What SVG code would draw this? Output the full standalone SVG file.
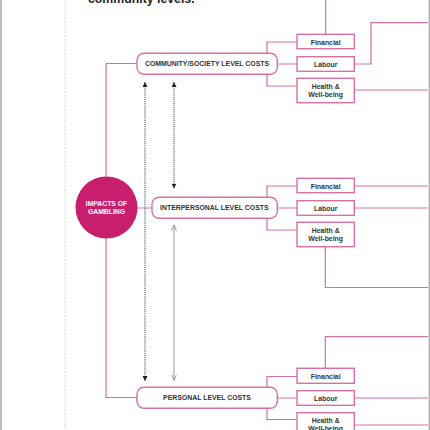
<svg xmlns="http://www.w3.org/2000/svg" width="430" height="430" viewBox="0 0 430 430">
<defs>
<style>
.lk{fill:none;stroke:#d870a3;stroke-width:1.2}
.bx{fill:#fff;stroke:#d870a3;stroke-width:1.4}
.t{font-family:"Liberation Sans",Arial,sans-serif;font-weight:bold;fill:#333;text-anchor:middle}
.lv{font-size:6.9px}
.sm{font-size:6.9px}
.dot{fill:none;stroke:#333;stroke-width:0.9;stroke-dasharray:1.2 0.9}
.sol{fill:none;stroke:#888;stroke-width:0.8}
</style>
<marker id="fa" viewBox="0 0 6 6" refX="6" refY="3" markerWidth="5" markerHeight="5" orient="auto-start-reverse" markerUnits="userSpaceOnUse">
<path d="M0,0 L6,3 L0,6 Z" fill="#222"/>
</marker>
<marker id="oa" viewBox="0 0 6 6" refX="6" refY="3" markerWidth="6" markerHeight="6" orient="auto-start-reverse" markerUnits="userSpaceOnUse">
<path d="M0,0.5 L6,3 L0,5.5" fill="none" stroke="#888" stroke-width="0.8"/>
</marker>
</defs>
<rect width="430" height="430" fill="#fff"/>
<g id="frame">
<line x1="1" y1="0" x2="1" y2="430" stroke="#aaa" stroke-width="1.5"/>
<line x1="429.3" y1="0" x2="429.3" y2="430" stroke="#aaa" stroke-width="1.3"/>
<line x1="65" y1="0" x2="65" y2="430" stroke="#ccc" stroke-width="0.8" stroke-dasharray="2 1.5"/>
</g>
<text id="title" x="88" y="3" font-family="Liberation Sans,Arial,sans-serif" font-weight="bold" font-size="12.3" fill="#222">community levels.</text>
<g id="connectors">
<path class="lk" d="M106,63.5 H137 M106,63.5 V397.5 H137 M137,208 H152"/>
<path class="lk" d="M297,42 H267 V86 H297 M277,64 H297"/>
<path class="lk" d="M297,186 H267 V230 H297 M277,208 H297"/>
<path class="lk" d="M297,376.5 H267 V419.5 H297 M277,398 H297"/>
<path class="lk" d="M325.7,34 V0 M354,64 H371 V22.7 H428 M354,90 H428"/>
<path class="lk" d="M354,186 H428 M354,208 H428 M325.3,247 V287.5 H428"/>
<path class="lk" d="M325.3,368 V336.7 H428 M354,398 H428 M354,425 H428"/>
<line class="dot" x1="145" y1="82" x2="145" y2="381" marker-start="url(#fa)" marker-end="url(#fa)"/>
<line class="dot" x1="174" y1="82" x2="174" y2="188.5" marker-start="url(#fa)" marker-end="url(#fa)"/>
<line class="sol" x1="174" y1="225" x2="174" y2="380.5" marker-start="url(#oa)" marker-end="url(#oa)"/>
</g>
<g id="impacts">
<circle cx="106.5" cy="207.5" r="31" fill="#c71f6d"/>
<text class="t" x="106.5" y="205.5" font-size="6.8" style="fill:#fff">IMPACTS OF</text>
<text class="t" x="106.5" y="214" font-size="6.8" style="fill:#fff">GAMBLING</text>
</g>
<g id="community">
<rect class="bx" x="137" y="53.3" width="140.3" height="21" rx="7"/>
<text class="t lv" x="207" y="66">COMMUNITY/SOCIETY LEVEL COSTS</text>
</g>
<g id="interpersonal">
<rect class="bx" x="152" y="197.3" width="125.3" height="21" rx="7"/>
<text class="t lv" x="214.3" y="210">INTERPERSONAL LEVEL COSTS</text>
</g>
<g id="personal">
<rect class="bx" x="137" y="387.3" width="140.3" height="21" rx="7"/>
<text class="t lv" x="207" y="399.5">PERSONAL LEVEL COSTS</text>
</g>
<g id="c-financial">
<rect class="bx" x="297" y="34.3" width="57.3" height="14.4"/>
<text class="t sm" x="325.7" y="45">Financial</text>
</g>
<g id="c-labour">
<rect class="bx" x="297" y="56.7" width="57.3" height="14.6"/>
<text class="t sm" x="325.7" y="67">Labour</text>
</g>
<g id="c-health">
<rect class="bx" x="297" y="78.3" width="57.3" height="24.4"/>
<text class="t sm" x="325.7" y="89.3">Health &amp;</text>
<text class="t sm" x="325.7" y="97.3">Well-being</text>
</g>
<g id="i-financial">
<rect class="bx" x="297" y="178.3" width="57.3" height="14.4"/>
<text class="t sm" x="325.7" y="189">Financial</text>
</g>
<g id="i-labour">
<rect class="bx" x="297" y="200.7" width="57.3" height="14.6"/>
<text class="t sm" x="325.7" y="210.7">Labour</text>
</g>
<g id="i-health">
<rect class="bx" x="297" y="222.3" width="57.3" height="24.4"/>
<text class="t sm" x="325.7" y="233">Health &amp;</text>
<text class="t sm" x="325.7" y="241">Well-being</text>
</g>
<g id="p-financial">
<rect class="bx" x="297" y="368.3" width="57.3" height="15"/>
<text class="t sm" x="325.7" y="378.7">Financial</text>
</g>
<g id="p-labour">
<rect class="bx" x="297" y="390.7" width="57.3" height="14.6"/>
<text class="t sm" x="325.7" y="400.7">Labour</text>
</g>
<g id="p-health">
<rect class="bx" x="297" y="412.7" width="57.3" height="24.4"/>
<text class="t sm" x="325.7" y="423.3">Health &amp;</text>
<text class="t sm" x="325.7" y="431.3">Well-being</text>
</g>
</svg>
